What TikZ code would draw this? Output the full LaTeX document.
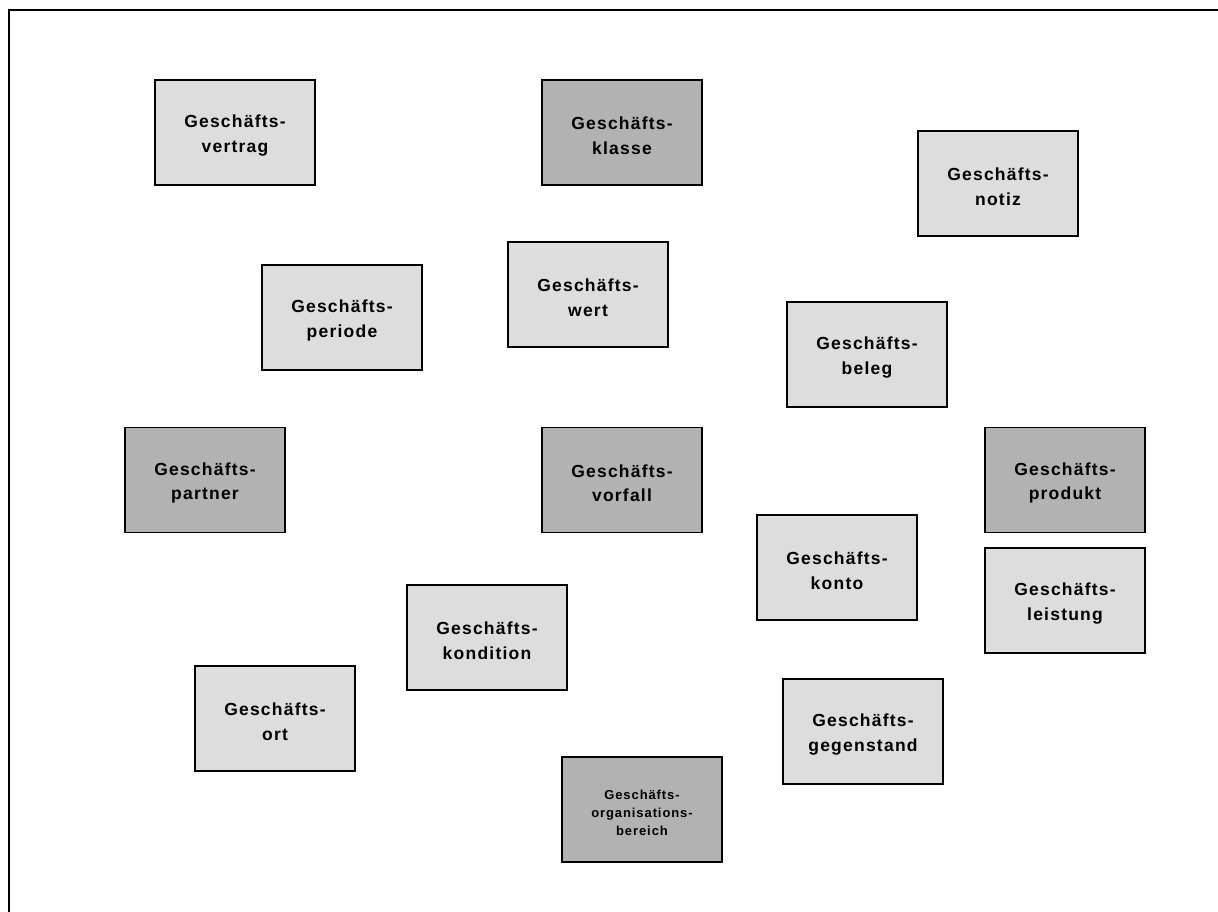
\documentclass[tikz,border=0pt]{standalone}
\usepackage{fontspec}
\setmainfont{Liberation Sans}[LetterSpace=7]
\begin{document}
\begin{tikzpicture}[x=1pt,y=-1pt,
  box/.style={draw=black,line width=1.4pt,minimum width=160pt,minimum height=105pt,inner sep=0pt},
  txt/.style={align=center,inner sep=0pt,yshift=-3pt,font=\fontsize{17.5}{24.5}\selectfont\bfseries},
  smalltxt/.style={align=center,inner sep=0pt,yshift=-3pt,font=\fontsize{13}{18}\selectfont\bfseries},
  light/.style={box,fill=lightbox},
  dark/.style={box,fill=darkbox}]
\definecolor{lightbox}{HTML}{DDDDDD}
\definecolor{darkbox}{HTML}{B2B2B2}
\useasboundingbox (0,0) rectangle (1218,911);
\draw[line width=2.8pt] (9,925) -- (9,10) -- (1230,10);
\node[light,label={[txt]center:Geschäfts-\\vertrag}] (vertrag) at (235,132.5) {};
\node[dark,label={[txt]center:Geschäfts-\\klasse}] (klasse) at (622,132.5) {};
\node[light,label={[txt]center:Geschäfts-\\notiz}] (notiz) at (998,183.5) {};
\node[light,label={[txt]center:Geschäfts-\\periode}] (periode) at (342,317.5) {};
\node[light,label={[txt]center:Geschäfts-\\wert}] (wert) at (588,294.5) {};
\node[light,label={[txt]center:Geschäfts-\\beleg}] (beleg) at (867,354.5) {};
\node[dark,label={[txt]center:Geschäfts-\\partner}] (partner) at (205,480) {};
\node[dark,label={[txt]center:Geschäfts-\\vorfall}] (vorfall) at (622,480) {};
\node[dark,label={[txt]center:Geschäfts-\\produkt}] (produkt) at (1065,480) {};
\node[light,label={[txt]center:Geschäfts-\\konto}] (konto) at (837,567.5) {};
\node[light,label={[txt]center:Geschäfts-\\leistung}] (leistung) at (1065,600.5) {};
\node[light,label={[txt]center:Geschäfts-\\kondition}] (kondition) at (487,637.5) {};
\node[light,label={[txt]center:Geschäfts-\\ort}] (ort) at (275,718.5) {};
\node[light,label={[txt]center:Geschäfts-\\gegenstand}] (gegenstand) at (863,731.5) {};
\node[dark,label={[smalltxt]center:Geschäfts-\\organisations-\\bereich}] (orga) at (642,809.5) {};
\end{tikzpicture}
\end{document}
